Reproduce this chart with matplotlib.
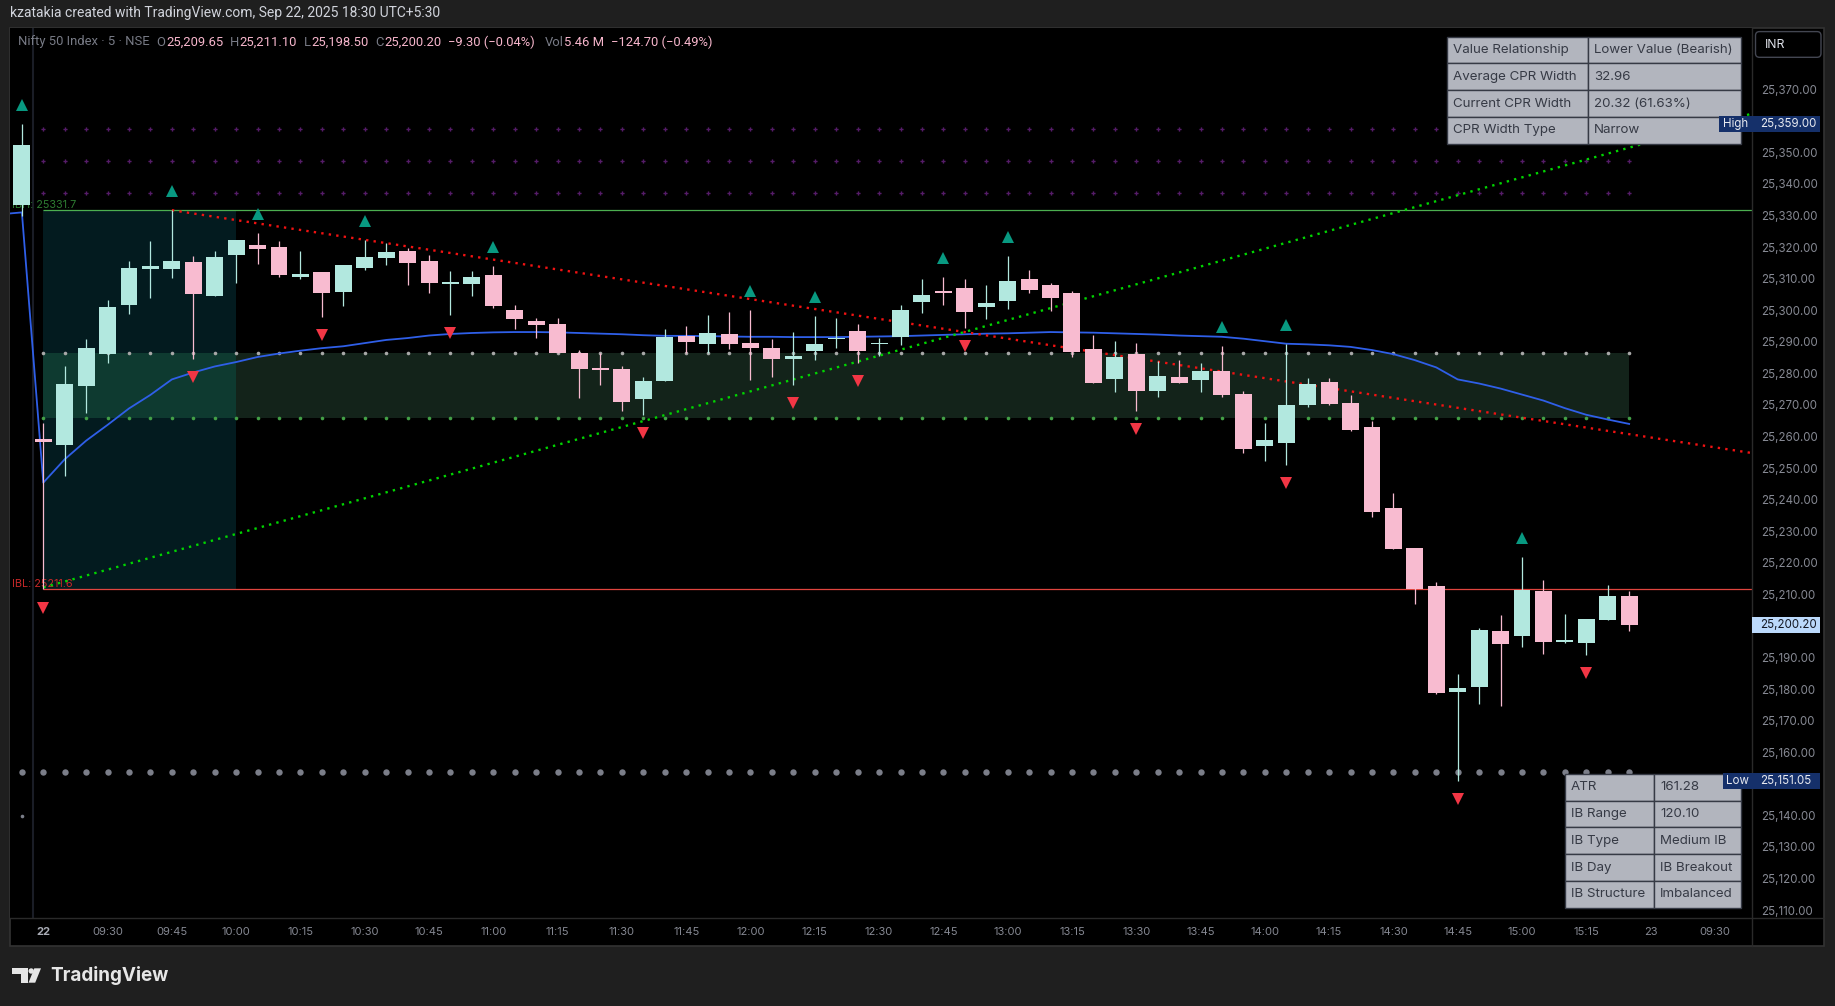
import numpy as np
import matplotlib
matplotlib.use("Agg")
import matplotlib.pyplot as plt
import matplotlib.transforms as mtransforms
from matplotlib.patches import Rectangle, FancyBboxPatch, Circle, Polygon

plt.rcParams['font.family'] = ['Inter', 'DejaVu Sans']

W, H = 1835, 1006

# ---- 5 minute bars, Nifty 50, 22 Sep 2025 (bar -1 = last bar of the previous session)
bar_idx = np.arange(-1, 75)
opens = [25333.4,
         25259.3, 25257.4, 25275.9, 25286.1, 25301.7, 25313.1, 25313.1, 25315.3, 25304.5, 25317.6,
         25320.7, 25320.0, 25310.5, 25312.2, 25305.7, 25313.5, 25316.5, 25318.8, 25315.6, 25308.4,
         25308.4, 25311.2, 25300.1, 25296.6, 25295.7, 25286.5, 25281.4, 25281.4, 25272.0, 25277.6,
         25291.8, 25289.3, 25292.5, 25289.6, 25288.1, 25284.6, 25287.1, 25290.9, 25293.4, 25289.3,
         25291.5, 25302.6, 25306.1, 25307.0, 25301.0, 25302.9, 25309.9, 25308.0, 25305.5, 25287.7,
         25278.2, 25286.1, 25274.4, 25278.9, 25277.9, 25280.8, 25273.5, 25257.0, 25257.9, 25270.0,
         25277.3, 25270.6, 25263.0, 25237.4, 25224.7, 25212.7, 25179.1, 25180.7, 25198.4, 25196.8,
         25211.1, 25194.9, 25194.6, 25201.9, 25209.65]
highs = [25359.0,
         25264.3, 25282.4, 25290.9, 25303.2, 25315.6, 25322.0, 25331.7, 25317.1, 25318.8, 25322.2,
         25324.5, 25322.0, 25318.8, 25312.2, 25314.4, 25322.2, 25321.3, 25319.6, 25317.5, 25312.5,
         25312.5, 25314.0, 25301.7, 25297.6, 25297.6, 25287.4, 25286.4, 25282.3, 25278.9, 25294.1,
         25295.0, 25298.5, 25299.5, 25300.1, 25290.9, 25293.1, 25298.2, 25297.6, 25295.7, 25291.2,
         25301.7, 25309.9, 25310.5, 25309.9, 25308.0, 25317.2, 25312.8, 25308.6, 25306.1, 25292.2,
         25290.3, 25289.6, 25283.9, 25284.2, 25283.3, 25288.7, 25274.4, 25264.3, 25289.3, 25278.5,
         25278.5, 25273.2, 25264.9, 25242.1, 25224.7, 25213.9, 25184.8, 25199.4, 25203.5, 25221.9,
         25214.6, 25203.8, 25202.2, 25213.0, 25211.10]
lows = [25330.0,
        25211.6, 25247.6, 25267.5, 25283.3, 25298.9, 25303.9, 25310.2, 25284.7, 25304.5, 25308.7,
        25314.7, 25310.6, 25310.0, 25298.0, 25301.4, 25312.8, 25314.4, 25308.0, 25305.6, 25298.6,
        25304.6, 25300.8, 25294.2, 25291.3, 25286.4, 25272.3, 25276.4, 25268.2, 25266.8, 25277.6,
        25286.4, 25286.4, 25287.7, 25277.9, 25278.9, 25276.4, 25284.2, 25288.0, 25283.3, 25285.5,
        25289.0, 25299.1, 25301.7, 25294.4, 25297.2, 25300.4, 25305.5, 25299.8, 25285.2, 25277.0,
        25274.1, 25268.1, 25272.5, 25277.0, 25274.1, 25272.6, 25254.8, 25252.2, 25251.0, 25269.4,
        25270.0, 25261.8, 25234.5, 25224.4, 25207.0, 25178.5, 25151.05, 25175.3, 25174.7, 25193.3,
        25191.1, 25194.6, 25190.8, 25201.9, 25198.50]
closes = [25352.3,
          25258.4, 25276.6, 25288.1, 25301.0, 25313.4, 25313.9, 25315.6, 25305.0, 25316.8, 25322.2,
          25319.5, 25311.2, 25311.6, 25305.5, 25314.4, 25316.9, 25318.5, 25315.0, 25308.7, 25309.0,
          25310.5, 25301.4, 25297.3, 25295.4, 25286.6, 25281.5, 25281.2, 25271.0, 25277.6, 25291.5,
          25289.9, 25292.8, 25289.3, 25288.2, 25284.6, 25285.5, 25289.3, 25291.2, 25287.1, 25289.6,
          25300.1, 25304.8, 25305.6, 25299.5, 25302.3, 25309.3, 25306.4, 25303.9, 25286.8, 25277.0,
          25285.2, 25274.4, 25279.2, 25277.0, 25280.7, 25273.2, 25256.0, 25258.9, 25270.0, 25276.6,
          25270.3, 25262.1, 25236.1, 25224.4, 25211.7, 25178.8, 25180.4, 25198.7, 25194.3, 25211.4,
          25194.9, 25195.6, 25202.2, 25209.5, 25200.20]

# VWAP, one value per bar from bar -2
vwap_idx = np.arange(-2, 75)
vwap = [25330.4, 25331.0,
        25245.4, 25252.8, 25258.7, 25263.7, 25268.9, 25273.2, 25278.1, 25280.3, 25282.2, 25283.6,
        25285.2, 25286.3, 25287.2, 25288.0, 25288.6, 25289.6, 25290.6, 25291.2, 25292.0, 25292.5,
        25292.8, 25293.0, 25293.1, 25293.1, 25293.0, 25292.8, 25292.6, 25292.4, 25292.1, 25291.9,
        25291.9, 25291.8, 25291.7, 25291.6, 25291.6, 25291.5, 25291.5, 25291.5, 25291.6, 25291.7,
        25291.8, 25292.0, 25292.2, 25292.4, 25292.6, 25292.7, 25292.9, 25293.1, 25293.0, 25292.9,
        25292.7, 25292.5, 25292.3, 25292.0, 25291.8, 25291.6, 25291.0, 25290.2, 25289.4, 25289.2,
        25288.9, 25288.4, 25287.4, 25286.1, 25284.2, 25281.9, 25278.1, 25276.8, 25275.2, 25273.3,
        25271.4, 25269.0, 25266.9, 25265.4, 25264.0]

# signals
sig_up = [-1, 6, 10, 15, 21, 33, 36, 42, 45, 55, 58, 69]
sig_dn = [0, 7, 13, 19, 28, 35, 38, 43, 51, 58, 66, 72]

# levels
ib_high, ib_low = 25331.7, 25211.6
ib_end = 9
cpr_top, cpr_bot = 25286.4, 25266.0
cpr_end = 74
pivot_rows = [25357.5, 25347.3, 25337.1]
low_dots_level = 25153.6
prev_dot = (-1, 25139.7)
day_high, day_low, last_price = 25359.00, 25151.05, 25200.20

# trendlines (two anchor points each)
res_x, res_y = [6, 80], [25331.7, 25254.5]
sup_x, sup_y = [0, 80], [25212.2, 25362.8]

ytick_vals = [v for v in range(25110, 25371, 10) if v not in (25150, 25200, 25360)]
xtick_pos = [0, 3, 6, 9, 12, 15, 18, 21, 24, 27, 30, 33, 36, 39, 42, 45, 48, 51, 54, 57, 60,
             63, 66, 69, 72, 75, 78]
xtick_lab = ['22', '09:30', '09:45', '10:00', '10:15', '10:30', '10:45', '11:00', '11:15',
             '11:30', '11:45', '12:00', '12:15', '12:30', '12:45', '13:00', '13:15', '13:30',
             '13:45', '14:00', '14:15', '14:30', '14:45', '15:00', '15:15', '23', '09:30']

top_table = [("Value Relationship", "Lower Value (Bearish)"),
             ("Average CPR Width", "32.96"),
             ("Current CPR Width", "20.32 (61.63%)"),
             ("CPR Width Type", "Narrow")]
bottom_table = [("ATR", "161.28"),
                ("IB Range", "120.10"),
                ("IB Type", "Medium IB"),
                ("IB Day", "IB Breakout"),
                ("IB Structure", "Imbalanced")]

BULL, BEAR = '#b2e8df', '#f8bbd0'
AXIS_TXT = '#868993'

fig = plt.figure(figsize=(W / 100, H / 100), dpi=100, facecolor='#1f1f1f')
# pixel coords, origin top-left
pxt = mtransforms.Affine2D().scale(1.0 / W, -1.0 / H).translate(0, 1) + fig.transFigure


def prect(x0, y0, x1, y1, **kw):
    r = Rectangle((x0, y0), x1 - x0, y1 - y0, transform=pxt, **kw)
    fig.add_artist(r)
    return r


# panel
prect(10, 28, 1824, 945.7, fc='black', ec='#333333', lw=1.2, zorder=-1)

ax = fig.add_axes([10 / W, 1 - 918.5 / H, 1741.5 / W, 890.5 / H])
ax.set_facecolor('black')
for s in ax.spines.values():
    s.set_visible(False)
ax.set_xlim(-1.554, 79.71)
ax.set_ylim(25107.34, 25389.41)

# shaded zones
ax.fill_between([0, ib_end], ib_low, ib_high, color='#031b1f', lw=0, zorder=0.5)
ax.fill_between([0, cpr_end], cpr_bot, cpr_top, color='#13231a', lw=0, zorder=0.6)
ax.fill_between([0, ib_end], cpr_bot, cpr_top, color='#0e3a30', lw=0, zorder=0.7)
ax.axvline(-0.5, color='#1a1d26', lw=1.5, zorder=0.8)

# level dots
lvl_x = np.arange(0, cpr_end + 1)
for lv in pivot_rows:
    ax.plot(lvl_x, np.full(len(lvl_x), lv), ls='none', marker='P', ms=3, color='#561c69',
            mew=0, zorder=1)
ax.plot(lvl_x, np.full(len(lvl_x), cpr_top), ls='none', marker='o', ms=2.6, color='#a8a8a8',
        mew=0, zorder=1)
ax.plot(lvl_x, np.full(len(lvl_x), cpr_bot), ls='none', marker='o', ms=2.6, color='#43a047',
        mew=0, zorder=1)
ax.plot(bar_idx, np.full(len(bar_idx), low_dots_level), ls='none', marker='o', ms=4.6,
        color='#7b7e89', mew=0, zorder=1)
ax.plot([prev_dot[0]], [prev_dot[1]], ls='none', marker='o', ms=2.6, color='#7b7e89', mew=0)

# IB lines and labels
ax.hlines(ib_high, 0, 80, color='#4caf50', lw=0.9, zorder=1.2)
ax.hlines(ib_low, 0, 80, color='#e0453f', lw=0.9, zorder=1.2)
ytr = ax.get_yaxis_transform()
ax.text(0.0014, ib_high + 1.6, "IBH: %.1f" % ib_high, transform=ytr, color='#2e7d32',
        fontsize=7.8, va='center', ha='left', zorder=2)
ax.text(0.0014, ib_low + 1.8, "IBL: %.1f" % ib_low, transform=ytr, color='#c62828',
        fontsize=7.8, va='center', ha='left', zorder=2)

# vwap
ax.plot(vwap_idx, vwap, color='#2f5fe8', lw=1.3, zorder=2)

# trendlines
ax.plot(res_x, res_y, color='#f01212', lw=1.7, ls=(0, (1, 2.2)), dash_capstyle='butt', zorder=2.5)
ax.plot(sup_x, sup_y, color='#00d400', lw=1.7, ls=(0, (1, 2.2)), dash_capstyle='butt', zorder=2.5)

# candles
o, hi, lo, c = map(np.array, (opens, highs, lows, closes))
cols = np.where(c >= o, BULL, BEAR)
ax.vlines(bar_idx, lo, hi, colors=cols, lw=0.9, zorder=3)
ax.bar(bar_idx, np.maximum(np.abs(c - o), 0.4), bottom=np.minimum(o, c), width=0.79,
       color=cols, lw=0, zorder=4)

# signal triangles
hi_of = dict(zip(bar_idx, hi))
lo_of = dict(zip(bar_idx, lo))
ax.plot(sig_up, [hi_of[i] + 6.1 for i in sig_up], ls='none', marker='^', ms=8.5,
        color='#089981', mew=0, zorder=5)
ax.plot(sig_dn, [lo_of[i] - 5.8 for i in sig_dn], ls='none', marker='v', ms=8.5,
        color='#f23645', mew=0, zorder=5)

# axes ticks
ax.yaxis.tick_right()
ax.set_yticks(ytick_vals)
ax.set_yticklabels(["{:,.2f}".format(v) for v in ytick_vals])
ax.tick_params(axis='y', length=0, pad=7, labelsize=8.3, labelcolor=AXIS_TXT)
ax.set_xticks(xtick_pos)
ax.set_xticklabels(xtick_lab)
ax.tick_params(axis='x', length=0, pad=6.3, labelsize=8.0, labelcolor=AXIS_TXT)
ax.get_xticklabels()[0].set_fontweight('bold')
ax.get_xticklabels()[0].set_color('#a9acb5')

# separators
fig.add_artist(plt.Line2D([10, 1824], [918.5, 918.5], transform=pxt, color='#2a2a2a', lw=1))
fig.add_artist(plt.Line2D([1751.5, 1751.5], [28, 945.7], transform=pxt, color='#2a2a2a', lw=1))


def price_y(p):
    return H - ax.transData.transform((0, p))[1]


# tables
def draw_table(rows, x0, xd, x1, y0, rh):
    for r, (k, v) in enumerate(rows):
        yt = y0 + r * rh
        prect(x0, yt, xd, yt + rh, fc='#b2b5be', ec='#363a45', lw=1, zorder=4)
        prect(xd, yt, x1, yt + rh, fc='#b2b5be', ec='#363a45', lw=1, zorder=4)
        fig.text(x0 + 6, yt + rh / 2, k, transform=pxt, color='#363a45', fontsize=9.6,
                 va='center', ha='left', zorder=4.5)
        fig.text(xd + 6, yt + rh / 2, v, transform=pxt, color='#363a45', fontsize=9.6,
                 va='center', ha='left', zorder=4.5)


draw_table(top_table, 1446.7, 1588.3, 1741, 36.7, 26.75)
draw_table(bottom_table, 1565, 1654.3, 1741, 774, 26.75)


# price tags
def price_tag(p, txt, fc, tc, label=None, lx0=None):
    y = price_y(p)
    prect(1751.5, y - 8, 1820, y + 8, fc=fc, ec='none', zorder=6)
    fig.text(1760, y, txt, transform=pxt, color=tc, fontsize=8.3, va='center', ha='left',
             zorder=6.5)
    if label:
        prect(lx0, y - 8, 1751.5, y + 8, fc=fc, ec='none', zorder=6)
        fig.text((lx0 + 1751.5) / 2, y, label, transform=pxt, color=tc, fontsize=8.3,
                 va='center', ha='center', zorder=6.5)


price_tag(day_high, "{:,.2f}".format(day_high), '#15306a', '#e8eaf0', 'High', 1719)
price_tag(day_low, "{:,.2f}".format(day_low), '#15306a', '#e8eaf0', 'Low', 1723)
price_tag(last_price, "{:,.2f}".format(last_price), '#bbd9fb', '#131722')

# INR button
fig.add_artist(FancyBboxPatch((1755.5, 31.6), 65.5, 25.7, boxstyle='round,pad=0,rounding_size=4',
                              transform=pxt, fc='black', ec='#434651', lw=1, zorder=6))
fig.text(1765, 44.5, "INR", transform=pxt, color='#e0e3eb', fontsize=8.8, va='center',
         ha='left', zorder=6.5)

# header
fig.text(10, 13, "kzatakia created with TradingView.com, Sep 22, 2025 18:30 UTC+5:30",
         transform=pxt, color='#d1d4dc', fontsize=10.0, va='center', ha='left',
         family=['Roboto', 'DejaVu Sans'])

# legend line, pieces laid out one after another
GRAY, PINK = '#787b86', '#f7b6cc'
legend_parts = [("Nifty 50 Index · 5 · NSE", GRAY, 7),
                ("O", GRAY, 0.8), ("25,209.65", PINK, 6.5),
                ("H", GRAY, 0.8), ("25,211.10", PINK, 6.5),
                ("L", GRAY, 0.8), ("25,198.50", PINK, 6.5),
                ("C", GRAY, 0.8), ("25,200.20", PINK, 6.5),
                ("\u22129.30 (\u22120.04%)", PINK, 10),
                ("Vol", GRAY, 0.8), ("5.46 M", PINK, 6.5),
                ("\u2212124.70 (\u22120.49%)", PINK, 0)]
rend = fig.canvas.get_renderer()
lx = 17.6
for txt, col, gap in legend_parts:
    t = fig.text(lx, 42, txt, transform=pxt, color=col, fontsize=9.35, va='center', ha='left',
                 family=['Roboto', 'DejaVu Sans'], zorder=6)
    lx += t.get_window_extent(rend).width + gap

# logo
LOGO = '#e6e6e6'
prect(12.3, 968.3, 28, 973.6, fc=LOGO, ec='none')
prect(20.7, 968.3, 28, 982.7, fc=LOGO, ec='none')
fig.add_artist(Circle((31.2, 971.0), 2.7, transform=pxt, fc=LOGO, ec='none'))
fig.add_artist(Polygon([(34.3, 968.3), (41.0, 968.3), (35.2, 982.7), (28.5, 982.7)],
                       closed=True, transform=pxt, fc=LOGO, ec='none'))
fig.text(50, 976, "TradingView", transform=pxt, color=LOGO, fontsize=13.6, weight='bold',
         va='center', ha='left')

fig.savefig("out.png", dpi=100, facecolor=fig.get_facecolor())
